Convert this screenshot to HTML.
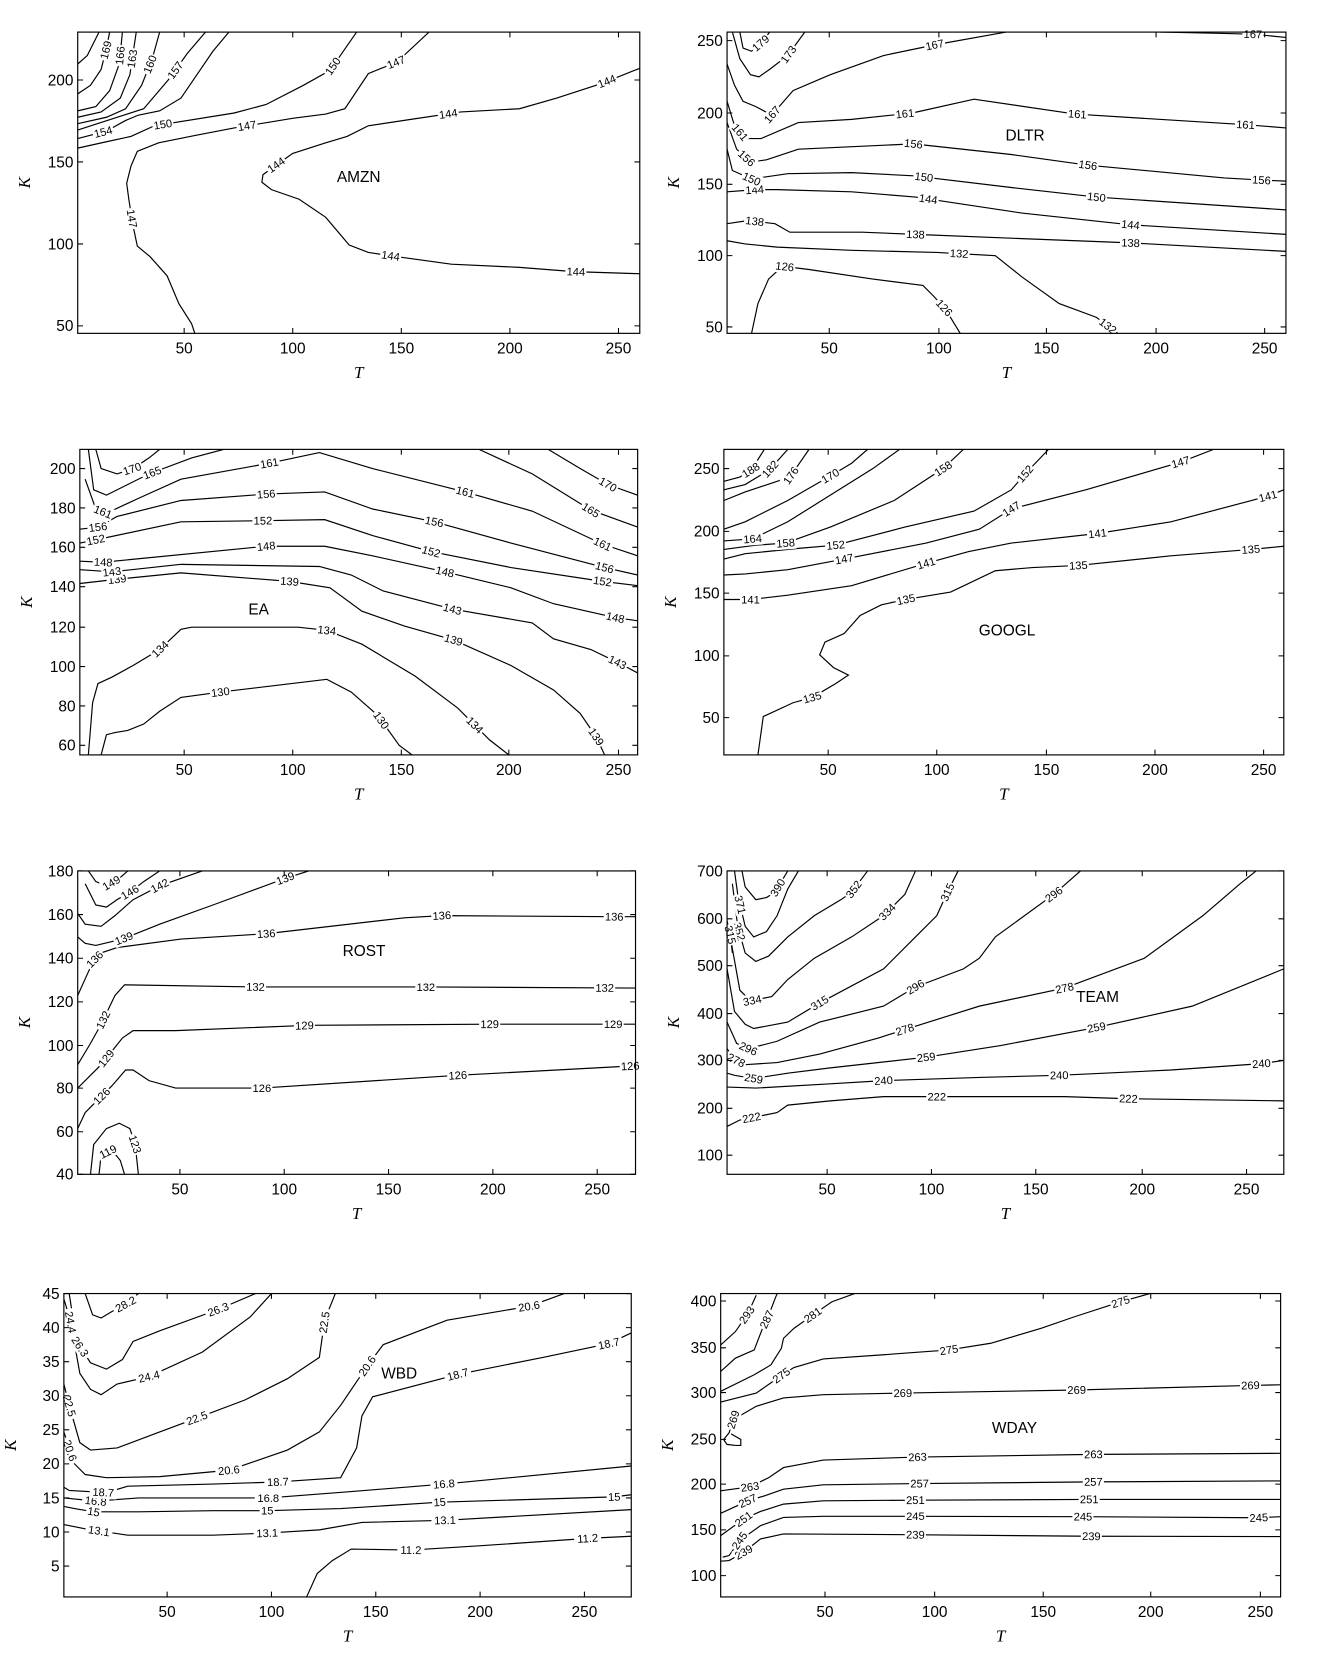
<!DOCTYPE html>
<html><head><meta charset="utf-8"><style>
html,body{margin:0;padding:0;background:#fff;}
svg{display:block;}
</style></head><body>
<svg id="s" xmlns="http://www.w3.org/2000/svg" width="1320" height="1678" viewBox="0 0 1240 1576"></svg>
<script>
function W(a){var o=[];for(var i=0;i<a.length;i+=2){o.push(+(677+(a[i]-155)*0.3934).toFixed(1),+(1215+(a[i+1]-125)*0.3115).toFixed(1));}return o;}
function WL(L){return L.map(function(l){var q=W([l[0],l[1]]);return [q[0],q[1],l[2]];});}
var P=[
{x0:73,x1:601,y0:30,y1:313,name:[337,166,'AMZN'],
 xt:[[173,'50'],[275,'100'],[377,'150'],[479,'200'],[581,'250']],
 yt:[[75,'200'],[152,'150'],[229,'100'],[306,'50']],
 c:[
 {p:[183,313,180,304,168,285,157,259,141,241,129,231,125,212,121,187,119,172,123,156,129,142,149,134,184,127,220,120,275,111,306,107,324,102,346,69,373,58,403,30],L:[[125,205,'147'],[232,118,'147'],[372,58,'147']]},
 {p:[601,257,539,255,488,251,424,248,373,241,346,237,328,230,306,204,281,187,255,178,246,171,247,164,255,158,275,144,306,134,326,128,346,118,386,112,433,105,488,102,523,92,566,78,601,64],L:[[367,240,'144'],[541,255,'144'],[258,153,'144'],[421,106,'144'],[570,76,'144']]},
 {p:[73,139,100,133,123,128,145,118,220,106,250,98,285,80,310,66,335,30],L:[[153,117,'150'],[314,63,'150']]},
 {p:[73,130,100,123,118,113,130,108,150,104,170,92,185,70,200,48,215,30],L:[[97,124,'154']]},
 {p:[73,122,110,110,135,102,158,75,176,50,193,30],L:[[165,66,'157']]},
 {p:[73,116,100,110,118,102,133,80,143,55,150,30],L:[[140,60,'160']]},
 {p:[73,110,95,105,113,92,122,70,128,30],L:[[124,55,'163']]},
 {p:[73,104,90,100,103,85,112,60,115,30],L:[[112,52,'166']]},
 {p:[73,88,85,80,95,65,100,45,103,30],L:[[100,47,'169']]},
 {p:[73,60,82,52,93,30],L:[]}
 ]},
{x0:683,x1:1208,y0:30,y1:313,name:[963,127,'DLTR'],
 xt:[[779,'50'],[882,'100'],[983,'150'],[1086,'200'],[1188,'250']],
 yt:[[38,'250'],[106,'200'],[173,'150'],[240,'100'],[307,'50']],
 c:[
 {p:[706,313,712,285,722,262,735,250,760,253,820,262,867,268,877,278,888,290,902,313],L:[[737,252,'126'],[887,289,'126']]},
 {p:[683,226,700,229,730,232,800,235,880,237,935,240,960,260,995,285,1030,298,1050,313],L:[[901,238,'132'],[1043,303,'132']]},
 {p:[683,210,703,207,728,210,742,218,810,218,860,220,960,224,1062,228,1208,236],L:[[709,208,'138'],[860,220,'138'],[1062,228,'138']]},
 {p:[683,180,710,178,730,178,800,180,860,185,960,200,1062,211,1208,220],L:[[709,179,'144'],[872,187,'144'],[1062,211,'144']]},
 {p:[683,140,688,160,706,168,740,163,800,162,858,165,950,176,1030,185,1208,197],L:[[706,168,'150'],[868,165,'150'],[1030,185,'150']]},
 {p:[683,115,692,140,705,152,720,150,750,140,858,135,950,145,1022,155,1150,167,1185,169,1208,170],L:[[699,151,'156'],[858,136,'156'],[1022,155,'156'],[1185,169,'156']]},
 {p:[683,95,690,118,700,130,715,130,750,115,800,112,857,106,915,93,1010,107,1170,117,1208,120],L:[[694,125,'161'],[850,107,'161'],[1012,107,'161'],[1170,117,'161']]},
 {p:[683,60,690,80,698,95,710,100,725,108,745,85,780,70,830,52,878,42,945,30],L:[[726,108,'167'],[878,42,'167']]},
 {p:[1090,30,1140,31,1177,32,1208,35],L:[[1177,32,'167']]},
 {p:[688,30,695,55,705,70,713,72,723,65,740,52,756,30],L:[[742,52,'173']]},
 {p:[695,30,698,45,706,48,715,40,723,30],L:[[716,42,'179']]}
 ]},
{x0:75,x1:599,y0:422,y1:709,name:[243,572,'EA'],
 xt:[[173,'50'],[275,'100'],[377,'150'],[478,'200'],[581,'250']],
 yt:[[440,'200'],[477,'180'],[514,'160'],[551,'140'],[589,'120'],[626,'100'],[663,'80'],[700,'60']],
 c:[
 {p:[95,709,100,690,108,688,120,686,135,680,150,668,170,655,207,650,307,638,330,650,355,672,375,700,387,709],L:[[207,650,'130'],[360,675,'130']]},
 {p:[83,709,87,660,92,642,105,636,125,625,150,610,170,591,180,589,280,589,307,592,340,605,390,635,430,665,460,695,478,709],L:[[148,607,'134'],[307,592,'134'],[450,677,'134']]},
 {p:[75,548,110,544,170,538,272,546,310,552,340,574,380,588,426,601,480,625,520,648,545,670,560,692,568,709],L:[[110,544,'139'],[272,546,'139'],[426,601,'139'],[560,692,'139']]},
 {p:[75,535,105,537,170,530,300,532,330,540,360,555,425,572,500,585,520,600,555,610,580,622,599,632],L:[[105,536,'143'],[425,572,'143'],[580,622,'143']]},
 {p:[75,527,97,528,250,513,305,513,350,522,418,537,480,552,520,567,578,580,599,583],L:[[97,528,'148'],[250,513,'148'],[418,537,'148'],[578,580,'148']]},
 {p:[75,510,90,507,170,490,247,489,305,488,350,503,405,518,480,533,566,546,599,550],L:[[90,507,'152'],[247,489,'152'],[405,518,'152'],[566,546,'152']]},
 {p:[75,497,92,495,110,485,170,470,250,464,305,462,350,478,408,490,480,510,568,533,599,540],L:[[92,495,'156'],[250,464,'156'],[408,490,'156'],[568,533,'156']]},
 {p:[80,450,90,478,100,482,130,468,170,450,253,435,300,425,350,440,437,462,500,480,566,511,599,522],L:[[97,480,'161'],[253,435,'161'],[437,462,'161'],[566,511,'161']]},
 {p:[83,422,88,460,100,465,140,445,180,430,210,422],L:[[143,444,'165']]},
 {p:[450,422,500,445,555,479,599,495],L:[[555,479,'165']]},
 {p:[90,422,95,440,110,445,125,440,140,430,150,422],L:[[124,440,'170']]},
 {p:[515,422,545,440,571,455,599,465],L:[[571,455,'170']]}
 ]},
{x0:680,x1:1206,y0:422,y1:709,name:[946,592,'GOOGL'],
 xt:[[778,'50'],[880,'100'],[983,'150'],[1085,'200'],[1187,'250']],
 yt:[[440,'250'],[499,'200'],[557,'150'],[616,'100'],[674,'50']],
 c:[
 {p:[712,709,717,673,745,660,763,655,785,642,797,634,783,627,770,615,775,603,793,595,808,578,828,568,851,563,893,556,935,536,970,533,1013,531,1100,522,1175,516,1206,513],L:[[763,655,'135'],[851,563,'135'],[1013,531,'135'],[1175,516,'135']]},
 {p:[680,563,705,563,740,559,800,550,870,529,910,518,950,510,1031,501,1100,490,1191,466,1206,460],L:[[705,563,'141'],[870,529,'141'],[1031,501,'141'],[1191,466,'141']]},
 {p:[680,540,700,539,740,535,793,525,870,510,920,497,950,478,1020,460,1109,434,1140,422],L:[[793,525,'147'],[950,478,'147'],[1109,434,'147']]},
 {p:[680,525,700,520,750,515,785,512,850,495,915,480,950,460,963,445,985,422],L:[[785,512,'152'],[963,445,'152']]},
 {p:[680,516,710,512,738,510,780,495,840,470,886,440,905,422],L:[[738,510,'158'],[886,440,'158']]},
 {p:[680,508,707,506,740,490,780,465,820,440,845,422],L:[[707,506,'164']]},
 {p:[680,497,700,490,740,470,780,447,800,435,815,422],L:[[780,447,'170']]},
 {p:[680,470,700,462,742,448,760,422],L:[[742,446,'176']]},
 {p:[680,460,700,455,723,441,740,422],L:[[723,440,'182']]},
 {p:[680,452,695,448,706,441,718,422],L:[[705,441,'188']]}
 ]},
{x0:73,x1:597,y0:818,y1:1103,name:[342,893,'ROST'],
 xt:[[169,'50'],[267,'100'],[365,'150'],[463,'200'],[561,'250']],
 yt:[[818,'180'],[859,'160'],[900,'140'],[941,'120'],[982,'100'],[1022,'80'],[1063,'60'],[1103,'40']],
 c:[
 {p:[93,1103,95,1085,105,1080,113,1090,117,1103],L:[[103,1085,'119']]},
 {p:[85,1103,88,1075,100,1060,112,1055,122,1060,127,1075,130,1103],L:[[126,1075,'123']]},
 {p:[73,1060,80,1045,90,1035,105,1020,118,1005,125,1005,140,1015,165,1022,246,1022,430,1010,597,1001],L:[[96,1030,'126'],[246,1022,'126'],[430,1010,'126'],[592,1001,'126']]},
 {p:[73,1022,85,1010,95,1000,115,975,125,968,165,968,290,963,460,962,597,962],L:[[101,995,'129'],[286,963,'129'],[460,962,'129'],[576,962,'129']]},
 {p:[73,1000,85,980,95,962,108,935,117,925,240,927,400,927,597,928],L:[[97,958,'132'],[240,927,'132'],[400,927,'132'],[568,928,'132']]},
 {p:[73,935,82,915,88,902,95,895,110,890,170,882,250,877,380,862,415,860,577,861,597,861],L:[[89,901,'136'],[250,877,'136'],[415,860,'136'],[577,861,'136']]},
 {p:[73,880,80,886,90,888,115,882,150,868,200,850,268,825,290,818],L:[[117,883,'139'],[268,825,'139']]},
 {p:[73,858,80,868,95,870,108,860,125,845,150,832,190,818],L:[[150,832,'142']]},
 {p:[80,830,90,850,100,852,110,845,122,838,135,828,150,818],L:[[122,838,'146']]},
 {p:[83,818,90,828,100,832,112,825,120,818],L:[[105,830,'149']]}
 ]},
{x0:683,x1:1206,y0:818,y1:1103,name:[1031,936,'TEAM'],
 xt:[[777,'50'],[875,'100'],[973,'150'],[1073,'200'],[1171,'250']],
 yt:[[818,'700'],[863,'600'],[907,'500'],[952,'400'],[996,'300'],[1041,'200'],[1085,'100']],
 c:[
 {p:[683,1058,695,1052,730,1045,740,1038,780,1034,830,1030,880,1030,1000,1030,1060,1032,1206,1034],L:[[706,1050,'222'],[880,1030,'222'],[1060,1032,'222']]},
 {p:[683,1021,710,1022,780,1018,830,1015,920,1012,995,1010,1100,1005,1185,999,1206,996],L:[[830,1015,'240'],[995,1010,'240'],[1185,999,'240']]},
 {p:[683,1008,690,1010,708,1013,740,1008,780,1003,870,993,940,982,1030,965,1120,945,1206,910],L:[[708,1013,'259'],[870,993,'259'],[1030,965,'259']]},
 {p:[683,985,690,995,700,1000,730,998,770,990,825,975,850,967,920,945,1000,928,1075,900,1130,860,1165,830,1180,818],L:[[691,997,'278'],[850,967,'278'],[1000,928,'278']]},
 {p:[683,960,692,980,703,985,730,978,770,960,830,945,860,927,905,910,920,900,935,880,990,840,1015,818],L:[[703,985,'296'],[860,927,'296'],[990,840,'296']]},
 {p:[683,910,690,950,700,962,708,966,740,960,770,942,830,910,860,880,880,860,890,838,900,818],L:[[770,942,'315'],[890,838,'315']]},
 {p:[686,880,695,930,705,940,725,936,740,920,765,900,800,880,830,860,850,840,860,818],L:[[707,941,'334'],[835,858,'334']]},
 {p:[688,830,693,870,700,895,710,903,722,898,740,880,765,860,790,845,800,838,815,818],L:[[694,875,'352'],[803,836,'352']]},
 {p:[690,818,693,840,700,870,708,880,720,875,730,860,740,835,750,818],L:[[694,850,'371']]},
 {p:[697,818,700,833,710,845,720,843,728,838,740,818],L:[[731,834,'390']]},
 {p:[683,865,686,878,688,895],L:[[686,878,'315']]}
 ]},
{x0:60,x1:593,y0:1215,y1:1500,name:[375,1290,'WBD'],
 xt:[[157,'50'],[255,'100'],[353,'150'],[451,'200'],[549,'250']],
 yt:[[1215,'45'],[1247,'40'],[1279,'35'],[1311,'30'],[1343,'25'],[1375,'20'],[1407,'15'],[1439,'10'],[1471,'5']],
 c:[
 {p:[288,1500,298,1478,312,1466,330,1455,386,1456,450,1452,552,1445,593,1443],L:[[386,1456,'11.2'],[552,1445,'11.2']]},
 {p:[60,1432,80,1436,93,1438,120,1442,200,1442,251,1440,300,1437,340,1430,418,1428,593,1418],L:[[93,1438,'13.1'],[251,1440,'13.1'],[418,1428,'13.1']]},
 {p:[60,1415,70,1417,88,1420,130,1420,200,1419,251,1419,320,1417,413,1411,577,1406,593,1404],L:[[88,1420,'15'],[251,1419,'15'],[413,1411,'15'],[577,1406,'15']]},
 {p:[60,1407,90,1410,130,1407,200,1407,252,1407,330,1401,417,1394,593,1377],L:[[90,1409,'16.8'],[252,1407,'16.8'],[417,1394,'16.8']]},
 {p:[60,1397,65,1400,100,1402,120,1396,200,1394,261,1392,320,1388,335,1360,340,1330,350,1312,430,1291,510,1275,572,1262,593,1252],L:[[97,1401,'18.7'],[261,1392,'18.7'],[430,1291,'18.7'],[572,1262,'18.7']]},
 {p:[60,1345,65,1360,70,1375,80,1385,100,1388,150,1387,215,1381,270,1362,300,1345,320,1320,345,1283,360,1263,420,1240,497,1227,530,1215],L:[[67,1362,'20.6'],[215,1381,'20.6'],[345,1283,'20.6'],[497,1227,'20.6']]},
 {p:[60,1300,65,1320,75,1355,85,1362,110,1360,150,1345,185,1332,230,1315,270,1295,300,1275,305,1240,315,1215],L:[[67,1320,'22.5'],[185,1332,'22.5'],[305,1242,'22.5']]},
 {p:[60,1220,66,1240,75,1290,85,1305,95,1310,110,1300,140,1293,190,1270,235,1237,255,1215],L:[[66,1242,'24.4'],[140,1293,'24.4']]},
 {p:[65,1215,72,1260,85,1280,100,1286,115,1277,125,1260,150,1250,205,1230,240,1215],L:[[75,1265,'26.3'],[205,1230,'26.3']]},
 {p:[80,1215,87,1235,95,1238,105,1232,118,1225,130,1215],L:[[118,1225,'28.2']]}
 ]},
{x0:677,x1:1203,y0:1215,y1:1500,name:[953,1341,'WDAY'],
 xt:[[775,'50'],[878,'100'],[980,'150'],[1081,'200'],[1184,'250']],
 yt:[[1222,'400'],[1266,'350'],[1308,'300'],[1352,'250'],[1394,'200'],[1437,'150'],[1480,'100']],
 c:[
 {p:W([155,932,175,930,210,905,250,865,305,850,600,852,1040,857,1492,858]),L:WL([[210,905,'239'],[620,853,'239'],[1040,857,'239']])},
 {p:W([160,920,175,915,200,870,250,825,305,800,400,797,620,797,1020,798,1440,801,1492,798]),L:WL([[200,870,'245'],[620,797,'245'],[1020,798,'245'],[1440,800,'245']])},
 {p:W([155,855,210,805,250,782,305,760,400,750,620,748,1035,746,1492,746]),L:WL([[210,805,'251'],[620,748,'251'],[1035,746,'251']])},
 {p:W([155,788,220,750,260,735,305,715,400,702,630,698,1045,693,1492,690]),L:WL([[220,752,'257'],[630,698,'257'],[1045,693,'257']])},
 {p:W([155,720,225,708,270,680,305,650,400,627,625,618,1045,610,1492,607]),L:WL([[225,708,'263'],[625,618,'263'],[1045,610,'263']])},
 {p:W([190,583,170,580,162,565,175,545,185,505,240,465,305,440,400,430,590,425,1005,416,1420,402,1492,400]),L:WL([[185,505,'269'],[590,426,'269'],[1005,416,'269'],[1420,403,'269']])},
 {p:W([190,583,203,583,203,565,180,548])},
 {p:W([155,452,240,425,280,390,300,372,330,348,400,322,540,310,700,295,800,275,920,230,1000,195,1110,150,1180,125]),L:WL([[300,372,'275'],[700,293,'275'],[1110,150,'275']])},
 {p:W([155,420,235,370,275,340,300,290,305,260,330,230,375,190,420,150,475,125]),L:WL([[375,190,'281']])},
 {p:W([155,360,190,320,235,295,255,230,270,190,285,140,290,125]),L:WL([[268,205,'287']])},
 {p:W([155,280,190,240,220,185,240,130]),L:WL([[218,190,'293']])}
 ]}
];
var out=[];var id=0;
function esc(s){return s;}
P.forEach(function(A){
 id++;
 out.push('<clipPath id="c'+id+'"><rect x="'+A.x0+'" y="'+A.y0+'" width="'+(A.x1-A.x0)+'" height="'+(A.y1-A.y0)+'"/></clipPath>');
 var g='<g clip-path="url(#c'+id+')" fill="none" stroke="#000" stroke-width="1.1">';
 var labs='';
 A.c.forEach(function(C){
  var p=C.p;var d='M';for(var i=0;i<p.length;i+=2){d+=(i?' L':'')+p[i]+' '+p[i+1];}
  g+='<path d="'+d+'"/>';
  (C.L||[]).forEach(function(l){
   var bx=l[0],by=l[1],best=1e9,ang=0,px=bx,py=by;
   for(var i=0;i+3<p.length;i+=2){var ax=p[i],ay=p[i+1],cx=p[i+2],cy=p[i+3];var dx=cx-ax,dy=cy-ay;var L2=dx*dx+dy*dy||1;var t=((bx-ax)*dx+(by-ay)*dy)/L2;t=Math.max(0,Math.min(1,t));var qx=ax+t*dx,qy=ay+t*dy;var dd=(qx-bx)*(qx-bx)+(qy-by)*(qy-by);if(dd<best){best=dd;px=qx;py=qy;ang=Math.atan2(dy,dx)*180/Math.PI;}}
   if(ang>90)ang-=180;if(ang<-90)ang+=180;
   var w=l[2].length*5.6+3;
   labs+='<g transform="translate('+px.toFixed(1)+','+py.toFixed(1)+') rotate('+ang.toFixed(1)+')"><rect x="'+(-w/2)+'" y="-6" width="'+w+'" height="12" fill="#fff"/><text x="0" y="3.6" text-anchor="middle" font-size="10.5">'+l[2]+'</text></g>';
  });
 });
 g+='</g>';
 out.push(g);out.push(labs);
 out.push('<rect x="'+A.x0+'" y="'+A.y0+'" width="'+(A.x1-A.x0)+'" height="'+(A.y1-A.y0)+'" fill="none" stroke="#000" stroke-width="1.1"/>');
 var t='';
 A.xt.forEach(function(x){t+='M'+x[0]+' '+A.y1+' v-5 M'+x[0]+' '+A.y0+' v5 ';out.push('<text x="'+x[0]+'" y="'+(A.y1+19)+'" text-anchor="middle" font-size="14.5">'+x[1]+'</text>');});
 A.yt.forEach(function(y){t+='M'+A.x0+' '+y[0]+' h5 M'+A.x1+' '+y[0]+' h-5 ';out.push('<text x="'+(A.x0-4)+'" y="'+(y[0]+5)+'" text-anchor="end" font-size="14.5">'+y[1]+'</text>');});
 out.push('<path d="'+t+'" stroke="#000" stroke-width="1"/>');
 var mx=(A.x0+A.x1)/2,my=(A.y0+A.y1)/2;
 out.push('<text x="'+mx+'" y="'+(A.y1+42)+'" text-anchor="middle" font-size="16" font-style="italic" font-family="Liberation Serif, serif">T</text>');
 out.push('<text transform="translate('+(A.x0-45)+','+my+') rotate(-90)" text-anchor="middle" font-size="16" font-style="italic" font-family="Liberation Serif, serif">K</text>');
 out.push('<text x="'+A.name[0]+'" y="'+(A.name[1]+5)+'" text-anchor="middle" font-size="14.5">'+A.name[2]+'</text>');
});
var s=document.getElementById('s');
s.innerHTML='<g font-family="Liberation Sans, Arial, sans-serif" fill="#000">'+out.join('')+'</g>';
</script>
</body></html>
